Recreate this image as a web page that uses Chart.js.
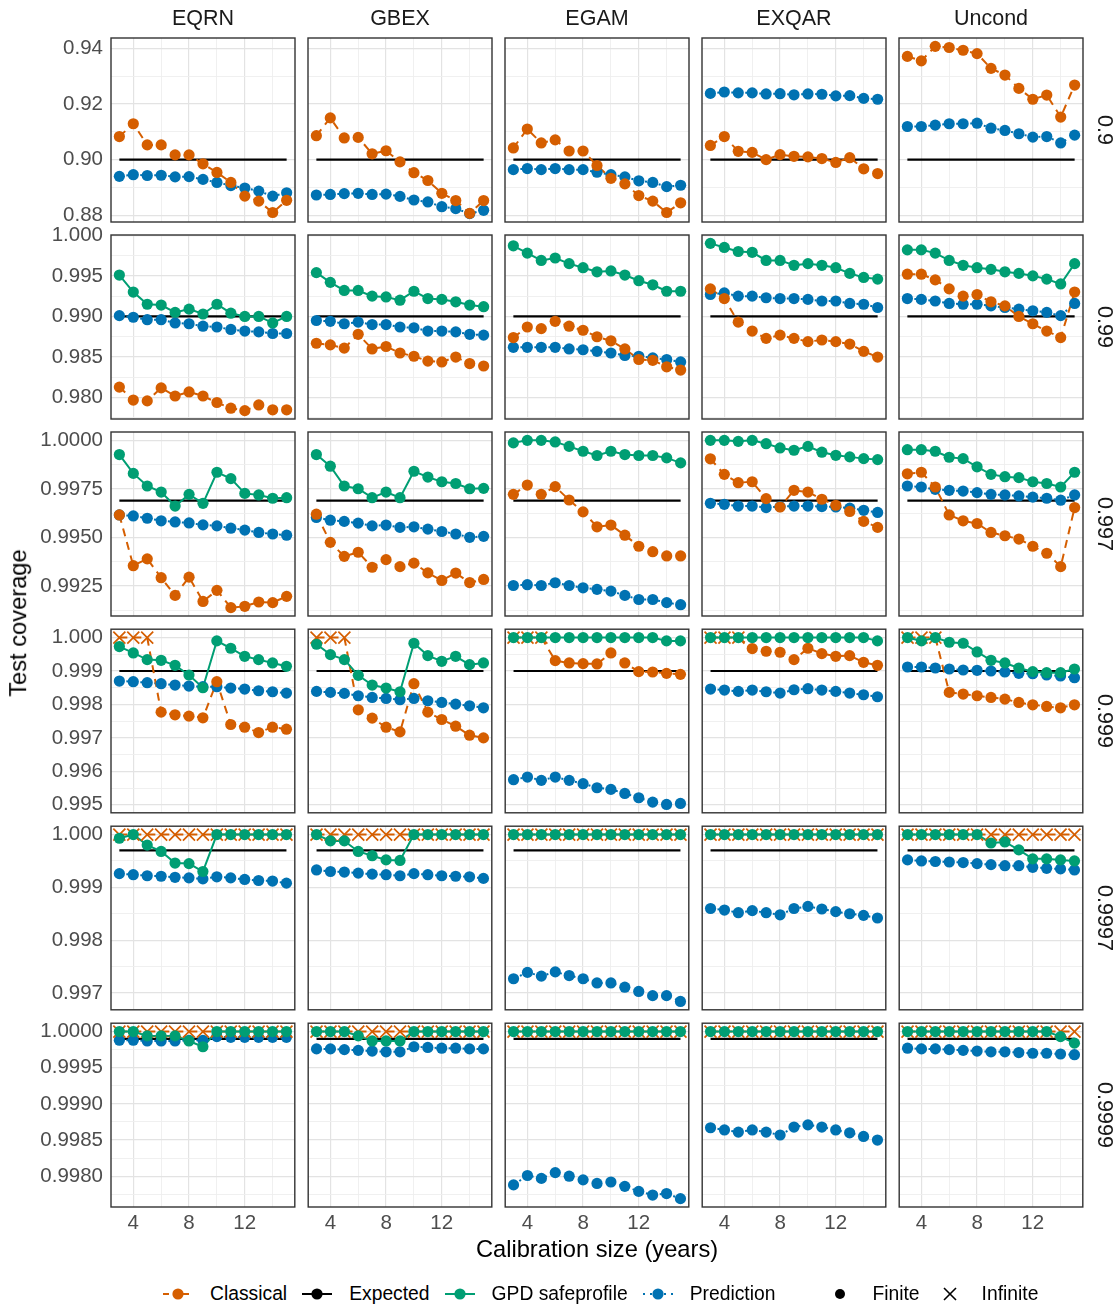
<!DOCTYPE html>
<html>
<head>
<meta charset="utf-8">
<script src="https://cdn.jsdelivr.net/npm/chart.js@4.4.0/dist/chart.umd.min.js"></script>
<style>
  body { margin: 0; background: #fff; }
  #fig { position: relative; width: 1117px; height: 1309px; background: #fff;
         font-family: "Liberation Sans", Arial, sans-serif; overflow: hidden; }
  #fig canvas { position: absolute; }
  .lbl { position: absolute; white-space: nowrap; line-height: 1; transform-origin: center; }
  .legend { position: absolute; left: 163px; top: 1282px; height: 24px; display: flex; align-items: center;
            font-size: 19.3px; color: #000; }
  .legend svg { flex: none; }
  .legend span { margin-left: 17px; margin-right: 15px; }
</style>
</head>
<body>
<div id="fig"></div>
<script>
// calibration sizes (years), facet columns and rows
const sizes = [3, 4, 5, 6, 7, 8, 9, 10, 11, 12, 13, 14, 15];
const methods = ['EQRN', 'GBEX', 'EGAM', 'EXQAR', 'Uncond'];
const levels = ['0.9', '0.99', '0.997', '0.999', '0.9997', '0.9999'];
const expected = [0.9, 0.99, 0.9969, 0.999, 0.9997, 0.9999];

// tick labels
const xTickLabels = [4, 8, 12];
const yTickLabels = [
  ['0.88', '0.90', '0.92', '0.94'],
  ['0.980', '0.985', '0.990', '0.995', '1.000'],
  ['0.9925', '0.9950', '0.9975', '1.0000'],
  ['0.995', '0.996', '0.997', '0.998', '0.999', '1.000'],
  ['0.997', '0.998', '0.999', '1.000'],
  ['0.9980', '0.9985', '0.9990', '0.9995', '1.0000']
];

// Classical (rows = methods in order above)
const cls900 = [
  [0.9083, 0.9129, 0.9053, 0.9053, 0.9017, 0.9017, 0.8985, 0.8954, 0.8918, 0.8869, 0.8851, 0.8810, 0.8854],
  [0.9086, 0.9150, 0.9078, 0.9080, 0.9021, 0.9032, 0.8992, 0.8953, 0.8925, 0.8879, 0.8853, 0.8807, 0.8853],
  [0.9042, 0.9110, 0.9060, 0.9071, 0.9031, 0.9031, 0.8979, 0.8933, 0.8913, 0.8871, 0.8851, 0.8810, 0.8845],
  [0.9051, 0.9083, 0.9030, 0.9026, 0.9000, 0.9018, 0.9012, 0.9010, 0.9004, 0.8990, 0.9007, 0.8967, 0.8950],
  [0.9371, 0.9355, 0.9407, 0.9403, 0.9393, 0.9381, 0.9328, 0.9304, 0.9256, 0.9217, 0.9232, 0.9153, 0.9268]
];
const cls990 = [
  [0.9813, 0.9797, 0.9796, 0.9812, 0.9802, 0.9807, 0.9802, 0.9794, 0.9787, 0.9784, 0.9791, 0.9785, 0.9785],
  [0.9867, 0.9865, 0.9861, 0.9878, 0.9860, 0.9863, 0.9855, 0.9851, 0.9845, 0.9844, 0.9850, 0.9842, 0.9839],
  [0.9874, 0.9887, 0.9885, 0.9894, 0.9888, 0.9883, 0.9875, 0.9870, 0.9860, 0.9847, 0.9846, 0.9838, 0.9834],
  [0.9934, 0.9922, 0.9893, 0.9882, 0.9873, 0.9877, 0.9873, 0.9869, 0.9871, 0.9869, 0.9866, 0.9857, 0.9850],
  [0.9952, 0.9952, 0.9945, 0.9934, 0.9925, 0.9927, 0.9918, 0.9913, 0.9900, 0.9891, 0.9882, 0.9874, 0.9930]
];
const cls997 = [
  [0.99616, 0.99355, 0.99390, 0.99293, 0.99202, 0.99296, 0.99171, 0.99228, 0.99139, 0.99146, 0.99168, 0.99165, 0.99197],
  [0.99620, 0.99475, 0.99403, 0.99424, 0.99347, 0.99386, 0.99350, 0.99368, 0.99318, 0.99279, 0.99317, 0.99268, 0.99284],
  [0.99722, 0.99770, 0.99722, 0.99762, 0.99693, 0.99632, 0.99555, 0.99564, 0.99512, 0.99455, 0.99427, 0.99405, 0.99405],
  [0.99905, 0.99825, 0.99782, 0.99787, 0.99700, 0.99657, 0.99743, 0.99734, 0.99697, 0.99666, 0.99634, 0.99583, 0.99552],
  [0.99828, 0.99836, 0.99760, 0.99616, 0.99586, 0.99572, 0.99526, 0.99509, 0.99492, 0.99455, 0.99419, 0.99350, 0.99654]
];
const cls999 = [
  [1, 1, 1, 0.99777, 0.99769, 0.99765, 0.99760, 0.99868, 0.99740, 0.99732, 0.99716, 0.99732, 0.99726],
  [1, 1, 1, 0.99784, 0.99759, 0.99732, 0.99718, 0.99862, 0.99777, 0.99755, 0.99735, 0.99708, 0.99700],
  [1, 1, 1, 0.99931, 0.99924, 0.99922, 0.99921, 0.99954, 0.99924, 0.99898, 0.99897, 0.99893, 0.99890],
  [1, 1, 1, 0.99967, 0.99959, 0.99956, 0.99934, 0.99968, 0.99952, 0.99944, 0.99946, 0.99926, 0.99917],
  [1, 1, 1, 0.99836, 0.99831, 0.99826, 0.99821, 0.99816, 0.99806, 0.99799, 0.99794, 0.99790, 0.99799]
];
const cls9997 = [
  [1, 1, 1, 1, 1, 1, 1, 1, 1, 1, 1, 1, 1],
  [1, 1, 1, 1, 1, 1, 1, 1, 1, 1, 1, 1, 1],
  [1, 1, 1, 1, 1, 1, 1, 1, 1, 1, 1, 1, 1],
  [1, 1, 1, 1, 1, 1, 1, 1, 1, 1, 1, 1, 1],
  [1, 1, 1, 1, 1, 1, 1, 1, 1, 1, 1, 1, 1]
];
const cls9999 = [
  [1, 1, 1, 1, 1, 1, 1, 1, 1, 1, 1, 1, 1],
  [1, 1, 1, 1, 1, 1, 1, 1, 1, 1, 1, 1, 1],
  [1, 1, 1, 1, 1, 1, 1, 1, 1, 1, 1, 1, 1],
  [1, 1, 1, 1, 1, 1, 1, 1, 1, 1, 1, 1, 1],
  [1, 1, 1, 1, 1, 1, 1, 1, 1, 1, 1, 1, 1]
];
// calibration sizes where the Classical interval is infinite, per level
const clsInfinite = [[], [], [], [3, 4, 5],
  [3, 4, 5, 6, 7, 8, 9, 10, 11, 12, 13, 14, 15],
  [3, 4, 5, 6, 7, 8, 9, 10, 11, 12, 13, 14, 15]];

// GPD safeprofile (not shown at 0.9)
const gpd900 = [];
const gpd990 = [
  [0.9951, 0.9930, 0.9915, 0.9914, 0.9905, 0.9909, 0.9903, 0.9915, 0.9904, 0.9900, 0.9900, 0.9892, 0.9900],
  [0.9954, 0.9942, 0.9932, 0.9932, 0.9925, 0.9924, 0.9920, 0.9931, 0.9922, 0.9921, 0.9918, 0.9914, 0.9912],
  [0.9987, 0.9978, 0.9969, 0.9972, 0.9965, 0.9960, 0.9955, 0.9956, 0.9951, 0.9944, 0.9939, 0.9931, 0.9931],
  [0.9990, 0.9985, 0.9980, 0.9979, 0.9969, 0.9969, 0.9963, 0.9965, 0.9963, 0.9960, 0.9953, 0.9948, 0.9946],
  [0.9982, 0.9982, 0.9978, 0.9969, 0.9963, 0.9960, 0.9958, 0.9955, 0.9953, 0.9950, 0.9946, 0.9940, 0.9965]
];
const gpd997 = [
  [0.99927, 0.99830, 0.99765, 0.99734, 0.99662, 0.99722, 0.99676, 0.99836, 0.99803, 0.99727, 0.99719, 0.99702, 0.99705],
  [0.99927, 0.99867, 0.99765, 0.99751, 0.99705, 0.99734, 0.99705, 0.99841, 0.99811, 0.99787, 0.99778, 0.99751, 0.99753],
  [0.99987, 1, 1, 0.99992, 0.99969, 0.99944, 0.99922, 0.99944, 0.99927, 0.99922, 0.99922, 0.99910, 0.99884],
  [1, 1, 0.99995, 1, 0.99983, 0.99961, 0.99949, 0.99969, 0.99939, 0.99923, 0.99915, 0.99906, 0.99901],
  [0.99952, 0.99952, 0.99944, 0.99913, 0.99906, 0.99864, 0.99825, 0.99813, 0.99808, 0.99787, 0.99778, 0.99760, 0.99836]
];
const gpd999 = [
  [0.99973, 0.99954, 0.99934, 0.99932, 0.99917, 0.99888, 0.99850, 0.99990, 0.99968, 0.99944, 0.99934, 0.99924, 0.99914],
  [0.99980, 0.99949, 0.99934, 0.99887, 0.99858, 0.99849, 0.99838, 0.99983, 0.99946, 0.99929, 0.99944, 0.99919, 0.99924],
  [1, 1, 1, 1, 1, 1, 1, 1, 1, 1, 1, 0.9999, 0.9999],
  [1, 1, 1, 1, 1, 1, 1, 1, 1, 1, 1, 1, 0.9999],
  [1, 0.9999, 1, 0.99986, 0.99983, 0.99957, 0.99932, 0.99924, 0.99909, 0.99898, 0.99895, 0.99895, 0.99906]
];
const gpd9997 = [
  [0.99993, 1, 0.99980, 0.99968, 0.99946, 0.99945, 0.99930, 1, 1, 1, 1, 1, 1],
  [1, 0.99988, 0.99988, 0.99968, 0.99960, 0.99952, 0.99951, 1, 1, 1, 1, 1, 1],
  [1, 1, 1, 1, 1, 1, 1, 1, 1, 1, 1, 1, 1],
  [1, 1, 1, 1, 1, 1, 1, 1, 1, 1, 1, 1, 1],
  [1, 1, 1, 1, 1, 1, 0.99984, 0.99986, 0.99971, 0.99954, 0.99954, 0.99952, 0.99950]
];
const gpd9999 = [
  [1, 1, 0.99994, 0.99994, 0.99994, 0.99987, 0.99979, 1, 1, 1, 1, 1, 1],
  [1, 1, 1, 0.99994, 0.99987, 0.99987, 0.99987, 1, 1, 1, 1, 1, 1],
  [1, 1, 1, 1, 1, 1, 1, 1, 1, 1, 1, 1, 1],
  [1, 1, 1, 1, 1, 1, 1, 1, 1, 1, 1, 1, 1],
  [1, 1, 1, 1, 1, 1, 1, 1, 1, 1, 1, 0.99993, 0.99984]
];

// Prediction
const pred900 = [
  [0.8940, 0.8946, 0.8943, 0.8944, 0.8938, 0.8939, 0.8929, 0.8918, 0.8907, 0.8898, 0.8887, 0.8869, 0.8881],
  [0.8873, 0.8875, 0.8878, 0.8879, 0.8875, 0.8876, 0.8868, 0.8855, 0.8848, 0.8831, 0.8824, 0.8806, 0.8818],
  [0.8964, 0.8968, 0.8964, 0.8968, 0.8964, 0.8964, 0.8955, 0.8946, 0.8938, 0.8924, 0.8918, 0.8903, 0.8908],
  [0.9238, 0.9243, 0.9240, 0.9240, 0.9236, 0.9237, 0.9233, 0.9236, 0.9235, 0.9229, 0.9230, 0.9220, 0.9217],
  [0.9119, 0.9119, 0.9124, 0.9129, 0.9129, 0.9131, 0.9113, 0.9105, 0.9093, 0.9081, 0.9083, 0.9060, 0.9088]
];
const pred990 = [
  [0.9901, 0.9899, 0.9896, 0.9896, 0.9892, 0.9891, 0.9888, 0.9887, 0.9884, 0.9882, 0.9881, 0.9879, 0.9879],
  [0.9895, 0.9894, 0.9891, 0.9893, 0.9890, 0.9890, 0.9887, 0.9886, 0.9882, 0.9882, 0.9881, 0.9878, 0.9877],
  [0.9862, 0.9862, 0.9862, 0.9862, 0.9860, 0.9859, 0.9857, 0.9855, 0.9852, 0.9851, 0.9849, 0.9847, 0.9844],
  [0.9927, 0.9929, 0.9925, 0.9925, 0.9923, 0.9922, 0.9922, 0.9921, 0.9919, 0.9919, 0.9916, 0.9915, 0.9911],
  [0.9922, 0.9921, 0.9919, 0.9916, 0.9915, 0.9915, 0.9913, 0.9911, 0.9909, 0.9907, 0.9905, 0.9901, 0.9916]
];
const pred997 = [
  [0.99616, 0.99611, 0.99599, 0.99586, 0.99580, 0.99575, 0.99565, 0.99560, 0.99548, 0.99538, 0.99526, 0.99518, 0.99512],
  [0.99603, 0.99589, 0.99583, 0.99574, 0.99560, 0.99564, 0.99552, 0.99555, 0.99543, 0.99531, 0.99518, 0.99501, 0.99506],
  [0.99253, 0.99257, 0.99253, 0.99267, 0.99253, 0.99241, 0.99233, 0.99224, 0.99202, 0.99181, 0.99181, 0.99165, 0.99154],
  [0.99676, 0.99671, 0.99662, 0.99662, 0.99654, 0.99659, 0.99662, 0.99662, 0.99659, 0.99657, 0.99651, 0.99640, 0.99629],
  [0.99765, 0.99760, 0.99748, 0.99743, 0.99739, 0.99731, 0.99722, 0.99719, 0.99714, 0.99708, 0.99702, 0.99692, 0.99719]
];
const pred999 = [
  [0.99870, 0.99868, 0.99865, 0.99862, 0.99858, 0.99855, 0.99853, 0.99853, 0.99849, 0.99846, 0.99841, 0.99838, 0.99834],
  [0.99839, 0.99836, 0.99833, 0.99826, 0.99821, 0.99818, 0.99814, 0.99818, 0.99811, 0.99806, 0.99801, 0.99796, 0.99790],
  [0.99575, 0.99583, 0.99573, 0.99583, 0.99573, 0.99563, 0.99551, 0.99546, 0.99534, 0.99521, 0.99508, 0.99501, 0.99504],
  [0.99846, 0.99843, 0.99839, 0.99843, 0.99838, 0.99834, 0.99844, 0.99847, 0.99843, 0.99839, 0.99834, 0.99829, 0.99823],
  [0.99912, 0.99912, 0.99909, 0.99906, 0.99903, 0.99902, 0.99900, 0.99897, 0.99893, 0.99892, 0.99888, 0.99885, 0.99880]
];
const pred9997 = [
  [0.99926, 0.99924, 0.99922, 0.99921, 0.99919, 0.99918, 0.99916, 0.99920, 0.99918, 0.99915, 0.99913, 0.99912, 0.99908],
  [0.99933, 0.99930, 0.99929, 0.99927, 0.99925, 0.99924, 0.99922, 0.99926, 0.99924, 0.99922, 0.99921, 0.99920, 0.99917],
  [0.99727, 0.99739, 0.99732, 0.99740, 0.99733, 0.99727, 0.99719, 0.99719, 0.99711, 0.99703, 0.99695, 0.99695, 0.99684],
  [0.99860, 0.99857, 0.99852, 0.99856, 0.99852, 0.99848, 0.99860, 0.99864, 0.99859, 0.99854, 0.99850, 0.99847, 0.99842],
  [0.99952, 0.99950, 0.99949, 0.99948, 0.99947, 0.99945, 0.99943, 0.99941, 0.99941, 0.99938, 0.99936, 0.99935, 0.99933]
];
const pred9999 = [
  [0.99988, 0.99988, 0.99987, 0.99987, 0.99987, 0.99988, 0.99988, 0.99993, 0.99992, 0.99992, 0.99992, 0.99992, 0.99992],
  [0.99976, 0.99976, 0.99975, 0.99974, 0.99973, 0.99972, 0.99972, 0.99979, 0.99978, 0.99977, 0.99977, 0.99976, 0.99976],
  [0.99788, 0.99801, 0.99797, 0.99805, 0.99800, 0.99795, 0.99790, 0.99792, 0.99786, 0.99779, 0.99774, 0.99776, 0.99769],
  [0.99867, 0.99864, 0.99861, 0.99864, 0.99861, 0.99857, 0.99868, 0.99871, 0.99868, 0.99864, 0.99860, 0.99855, 0.99850],
  [0.99977, 0.99976, 0.99976, 0.99975, 0.99974, 0.99973, 0.99972, 0.99972, 0.99971, 0.99970, 0.99970, 0.99969, 0.99968]
];

const classical = [cls900, cls990, cls997, cls999, cls9997, cls9999];
const gpd = [gpd900, gpd990, gpd997, gpd999, gpd9997, gpd9999];
const prediction = [pred900, pred990, pred997, pred999, pred9997, pred9999];

const ORANGE = '#D55E00', GREEN = '#009E73', BLUE = '#0072B2';
const TICK_GREY = '#4d4d4d';

// page layout
const PAD = 10, SIZE = 184, AXIS_BOTTOM = 1242;
const colLeft = [111, 308, 505, 702, 899];
const rowTop = [38, 235, 432, 629, 826, 1023];
const fig = document.getElementById('fig');

Chart.defaults.font.family = '"Liberation Sans", Arial, sans-serif';

const framePlugin = {
  id: 'frame',
  afterDraw(chart) {
    const a = chart.chartArea, ctx = chart.ctx;
    ctx.save();
    ctx.strokeStyle = '#333333';
    ctx.lineWidth = 1.4;
    ctx.strokeRect(a.left, a.top, a.right - a.left, a.bottom - a.top);
    ctx.restore();
  }
};

function near(a, b, eps) { return Math.abs(a - b) < eps; }

// major ticks plus minor ticks halfway between, kept inside the range
function gridTicks(majors, lo, hi) {
  const step = majors[1] - majors[0];
  const minors = majors.map(v => v - step / 2).concat([majors[majors.length - 1] + step / 2]);
  return majors.concat(minors).filter(v => v >= lo && v <= hi).sort((a, b) => a - b);
}

const xLo = sizes[0] - 0.05 * (sizes[sizes.length - 1] - sizes[0]);
const xHi = sizes[sizes.length - 1] + 0.05 * (sizes[sizes.length - 1] - sizes[0]);
const xGrid = gridTicks(xTickLabels, xLo, xHi);

function rowRange(r) {
  let vals = [expected[r]];
  for (let m = 0; m < methods.length; m++) {
    vals = vals.concat(classical[r][m], prediction[r][m]);
    if (gpd[r].length) vals = vals.concat(gpd[r][m]);
  }
  const lo = Math.min(...vals), hi = Math.max(...vals);
  const e = (hi - lo) * 0.05;
  return [lo - e, hi + e];
}

function lineSet(vals, color, dash, order) {
  return {
    data: sizes.map((s, i) => ({ x: s, y: vals[i] })),
    borderColor: color, borderWidth: 2, borderDash: dash,
    pointRadius: 0, tension: 0, fill: false, order: order, clip: 12
  };
}

function pointSet(vals, color, inf, order) {
  return {
    data: sizes.map((s, i) => ({ x: s, y: vals[i] })),
    showLine: false,
    pointStyle: sizes.map(s => inf.includes(s) ? 'crossRot' : 'circle'),
    pointRadius: sizes.map(s => inf.includes(s) ? 8.5 : 5.6),
    pointBorderWidth: sizes.map(s => inf.includes(s) ? 1.7 : 0),
    pointBackgroundColor: color, pointBorderColor: color,
    order: order, clip: 12
  };
}

function makePanel(r, c) {
  const last = r === levels.length - 1;
  const left = colLeft[c], top = rowTop[r];
  const cl = c === 0 ? 0 : left - PAD;
  const ct = top - PAD;
  const cw = left + SIZE + PAD - cl;
  const ch = (last ? AXIS_BOTTOM : top + SIZE + PAD) - ct;
  const cv = document.createElement('canvas');
  cv.width = cw; cv.height = ch;
  cv.style.left = cl + 'px'; cv.style.top = ct + 'px';
  cv.style.width = cw + 'px'; cv.style.height = ch + 'px';
  fig.appendChild(cv);

  const [yLo, yHi] = rowRange(r);
  const majors = yTickLabels[r].map(Number);
  const yStep = majors[1] - majors[0];
  const yGrid = gridTicks(majors, yLo, yHi);
  const isYMajor = v => majors.some(m => near(m, v, yStep / 100));
  const isXMajor = v => xTickLabels.some(m => near(m, v, 0.01));

  const datasets = [];
  const e = expected[r];
  datasets.push({
    data: [{ x: sizes[0], y: e }, { x: sizes[sizes.length - 1], y: e }],
    borderColor: '#000000', borderWidth: 2.2, pointRadius: 0, order: 30, clip: 12
  });
  datasets.push(lineSet(prediction[r][c], BLUE, [2, 5], 22));
  datasets.push(lineSet(classical[r][c], ORANGE, [8, 6], 21));
  if (gpd[r].length) datasets.push(lineSet(gpd[r][c], GREEN, [], 20));
  datasets.push(pointSet(prediction[r][c], BLUE, [], 2));
  datasets.push(pointSet(classical[r][c], ORANGE, clsInfinite[r], 1));
  if (gpd[r].length) datasets.push(pointSet(gpd[r][c], GREEN, [], 0));

  new Chart(cv, {
    type: 'line',
    data: { datasets: datasets },
    plugins: [framePlugin],
    options: {
      responsive: false, animation: false, events: [],
      layout: { padding: { left: c === 0 ? 0 : PAD, right: PAD, top: PAD, bottom: last ? 0 : PAD } },
      plugins: { legend: { display: false }, tooltip: { enabled: false } },
      scales: {
        x: {
          type: 'linear', min: xLo, max: xHi,
          afterBuildTicks: s => { s.ticks = xGrid.map(v => ({ value: v })); },
          afterFit: s => {
            s.height = last ? AXIS_BOTTOM - (top + SIZE) : 0;
            s.paddingLeft = 0; s.paddingRight = 0;
          },
          ticks: {
            display: last, autoSkip: false, maxRotation: 0, padding: 4,
            color: TICK_GREY, font: { size: 20.5 },
            callback: v => isXMajor(v) ? String(Math.round(v)) : ''
          },
          grid: {
            drawTicks: false,
            color: ctx => isXMajor(ctx.tick.value) ? '#e3e3e3' : '#eeeeee',
            lineWidth: ctx => isXMajor(ctx.tick.value) ? 1.2 : 0.9
          },
          border: { display: false }
        },
        y: {
          type: 'linear', min: yLo, max: yHi,
          afterBuildTicks: s => { s.ticks = yGrid.map(v => ({ value: v })); },
          afterFit: s => {
            s.width = c === 0 ? left : 0;
            s.paddingTop = 0; s.paddingBottom = 0;
          },
          ticks: {
            display: c === 0, autoSkip: false, padding: 8,
            color: TICK_GREY, font: { size: 20.5 },
            callback: v => {
              const i = majors.findIndex(m => near(m, v, yStep / 100));
              return i >= 0 ? yTickLabels[r][i] : '';
            }
          },
          grid: {
            drawTicks: false,
            color: ctx => isYMajor(ctx.tick.value) ? '#e3e3e3' : '#eeeeee',
            lineWidth: ctx => isYMajor(ctx.tick.value) ? 1.2 : 0.9
          },
          border: { display: false }
        }
      }
    }
  });
}

for (let r = 0; r < levels.length; r++) {
  for (let c = 0; c < methods.length; c++) makePanel(r, c);
}

// text: strips and titles
function addLabel(text, cx, cy, size, color, rot) {
  const d = document.createElement('div');
  d.className = 'lbl';
  d.textContent = text;
  d.style.fontSize = size + 'px';
  d.style.color = color;
  d.style.left = cx + 'px';
  d.style.top = cy + 'px';
  d.style.transform = 'translate(-50%, -50%)' + (rot ? ' rotate(' + rot + 'deg)' : '');
  fig.appendChild(d);
}
methods.forEach((m, c) => addLabel(m, colLeft[c] + SIZE / 2, 19, 21.5, '#1a1a1a', 0));
levels.forEach((l, r) => addLabel(l, 1104, rowTop[r] + SIZE / 2, 21.5, '#1a1a1a', 90));
addLabel('Test coverage', 19, (rowTop[0] + rowTop[5] + SIZE) / 2, 23.7, '#000', -90);
addLabel('Calibration size (years)', (colLeft[0] + colLeft[4] + SIZE) / 2, 1250, 23.7, '#000', 0);

// legend
const legendKeys = [
  { name: 'Classical', color: ORANGE, dash: '6,4' },
  { name: 'Expected', color: '#000000', dash: '' },
  { name: 'GPD safeprofile', color: GREEN, dash: '' },
  { name: 'Prediction', color: BLUE, dash: '2,5' }
];
const lg = document.createElement('div');
lg.className = 'legend';
legendKeys.forEach(k => {
  const svg = '<svg width="30" height="24"><line x1="0" y1="12" x2="30" y2="12" stroke="' + k.color +
    '" stroke-width="2"' + (k.dash ? ' stroke-dasharray="' + k.dash + '"' : '') + '/>' +
    '<circle cx="15" cy="12" r="5.6" fill="' + k.color + '"/></svg>';
  lg.insertAdjacentHTML('beforeend', svg + '<span>' + k.name + '</span>');
});
lg.insertAdjacentHTML('beforeend', '<svg width="30" height="24" style="margin-left:35px"><circle cx="15" cy="12" r="5" fill="#000"/></svg><span>Finite</span>');
lg.insertAdjacentHTML('beforeend', '<svg width="30" height="24"><line x1="9" y1="6" x2="21" y2="18" stroke="#000" stroke-width="1.6"/><line x1="21" y1="6" x2="9" y2="18" stroke="#000" stroke-width="1.6"/></svg><span>Infinite</span>');
fig.appendChild(lg);
</script>
</body>
</html>
